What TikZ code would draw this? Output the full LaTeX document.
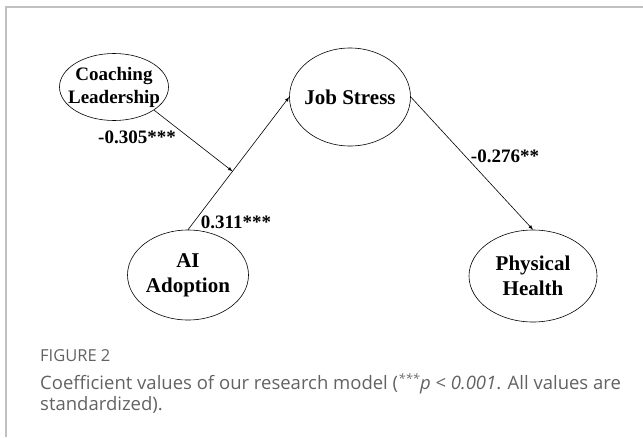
\documentclass[tikz,border=0pt]{standalone}
\usepackage{fontspec}
\setmainfont{Liberation Serif}
\newfontfamily\capfont{Open Sans}
\usepackage{tikz}
\usetikzlibrary{shapes.geometric,arrows}
\usepackage{xcolor}
\definecolor{framegray}{RGB}{192,192,192}
\definecolor{capgray}{RGB}{98,98,98}
\newcommand{\varfont}{\fontsize{21}{25}\selectfont\bfseries}
\newcommand{\clfont}{\fontsize{19}{23}\selectfont\bfseries}
\newcommand{\coeffont}{\fontsize{19}{23}\selectfont\bfseries}

\tikzset{
  var/.style={ellipse, draw, line width=0.6pt, inner xsep=-8pt, inner ysep=0pt, align=center, font=\varfont},
  coef/.style={font=\coeffont, inner sep=0pt},
  link/.style={-latex, line width=0.6pt}
}

\begin{document}
\begin{tikzpicture}[x=1pt,y=-1pt]
        \useasboundingbox (0,0) rectangle (643,437);

        % frame
        \draw[framegray, line width=1.2pt] (643,7) -- (6,7) -- (6,437);

        % latent variables
        \node[var, font=\clfont, minimum width=109pt, minimum height=67pt] (cl) at (114,87) {Coaching\\Leadership};
        \node[var, minimum width=121pt, minimum height=98pt] (js) at (350,97) {Job Stress};
        \node[var, minimum width=121pt, minimum height=90pt] (ai) at (188,275) {AI\\Adoption};
        \node[var, minimum width=128pt, minimum height=92pt] (ph) at (533,276) {Physical\\Health};

        % paths
        \draw[link] (ai.north) -- coordinate[pos=0.44] (mod) (js.west);
        \draw[link] (cl.-30) -- (mod);
        \draw[link] (js.east) -- (ph.north);

        % coefficients
        \node[coef] (b1) at (137,137) {-0.305***};
        \node[coef] (b2) at (236,222) {0.311***};
        \node[coef] (b3) at (505,156) {-0.276**};

        % caption
        \node[anchor=base west, inner sep=0pt, font=\capfont\fontsize{16.5}{19}\selectfont, text=capgray] (fig) at (40,361) {FIGURE 2};
        \node[anchor=north west, inner sep=0pt, align=left, font=\capfont\fontsize{18.5}{21}\selectfont, text=capgray] (cap) at (40,373)
                {Coefficient values of our research model (\textsuperscript{\itshape ***}\textit{p} < \textit{0.001}. All values are\\standardized).};
\end{tikzpicture}
\end{document}
